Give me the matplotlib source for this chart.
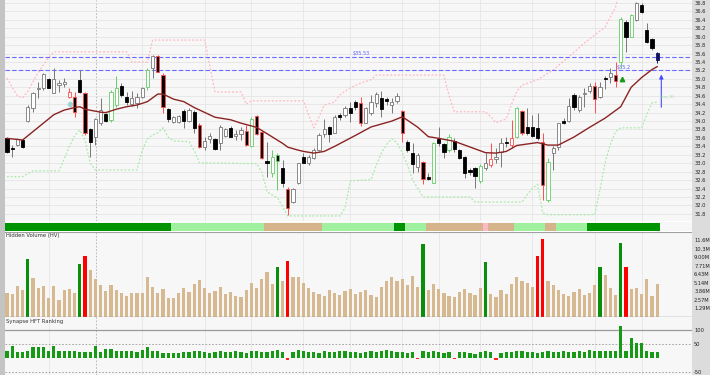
import numpy as np
import matplotlib
matplotlib.use("Agg")
import matplotlib.pyplot as plt
from matplotlib.patches import Rectangle

# ---- price candles ----
opens = [33.60,33.36,33.43,33.55,34.00,34.31,34.76,34.79,35.00,34.67,
         34.86,34.88,34.57,34.57,34.98,34.67,33.81,33.62,33.96,34.17,
         34.03,34.38,34.83,34.57,34.41,34.43,34.57,34.81,35.26,35.54,
         35.09,34.29,33.98,33.98,34.24,34.00,34.22,33.91,33.39,33.58,
         33.58,33.48,33.65,33.84,33.65,33.70,33.77,33.41,34.12,33.74,
         33.05,32.77,33.20,32.89,32.39,32.08,32.53,33.15,33.01,33.13,
         33.32,33.70,33.86,33.72,34.15,34.15,34.31,34.45,34.43,33.96,
         34.19,34.43,34.55,34.53,34.38,34.48,34.24,33.51,33.25,32.91,
         33.03,32.68,32.53,33.58,33.46,33.32,33.53,33.32,33.15,32.84,
         32.89,32.58,32.89,32.96,33.10,33.27,33.51,33.43,33.62,34.24,
         33.86,33.86,33.84,33.51,32.13,33.25,33.39,34.00,34.00,34.62,
         34.26,34.64,34.72,34.83,34.57,35.02,35.05,35.09,35.40,36.35,
         35.99,36.40,36.75,36.16,35.95,35.61]
highs = [33.62,33.43,33.60,33.58,34.38,34.69,34.93,35.14,35.02,35.26,
         34.98,35.02,34.79,34.69,35.21,34.69,33.84,34.07,34.55,34.19,
         34.74,35.07,34.90,34.69,34.72,34.67,34.81,35.26,35.57,35.57,
         35.14,34.31,34.12,34.15,34.29,34.31,34.26,33.96,33.62,33.72,
         33.60,33.91,33.84,33.89,33.79,33.86,33.91,34.10,34.15,33.77,
         33.51,33.32,33.25,33.08,32.44,32.42,33.01,33.25,33.20,33.36,
         33.72,34.05,33.89,34.15,34.19,34.36,34.45,34.50,34.57,34.34,
         34.62,34.69,34.72,34.57,34.55,34.67,34.26,33.55,33.48,33.25,
         33.05,32.77,33.51,33.86,33.48,33.70,33.60,33.34,33.18,32.89,
         32.91,32.99,33.25,33.48,33.36,33.60,33.62,34.03,34.34,34.26,
         34.31,34.15,34.19,33.72,33.13,33.41,33.96,34.07,34.55,34.67,
         34.62,34.79,34.90,34.93,34.93,35.07,35.26,35.40,36.47,36.40,
         36.54,36.82,36.80,36.33,35.97,35.64]
lows = [33.25,33.15,33.41,33.36,33.98,34.22,34.55,34.74,34.79,34.67,
        34.69,34.81,34.55,34.10,34.67,33.67,33.15,33.43,33.91,33.98,
        33.98,34.34,34.57,34.38,34.36,34.31,34.55,34.74,35.02,35.16,
        34.19,33.98,33.96,33.96,33.84,33.98,33.72,33.36,33.32,33.48,
        33.32,33.32,33.62,33.62,33.55,33.55,33.41,33.39,33.67,33.10,
        32.68,32.68,32.37,32.44,31.78,32.06,32.51,33.01,32.96,33.10,
        33.29,33.62,33.51,33.72,34.03,34.10,33.98,34.26,33.89,33.96,
        34.15,34.34,34.10,34.38,34.19,34.43,33.51,33.27,32.77,32.79,
        32.51,32.61,32.53,33.41,33.13,33.27,33.27,33.10,32.65,32.72,
        32.42,32.53,32.84,32.91,33.01,32.91,33.39,33.36,33.60,33.67,
        33.67,33.62,33.55,32.13,32.08,32.84,33.32,33.93,33.98,34.26,
        34.22,34.34,34.67,34.19,34.55,34.76,34.90,34.81,35.26,35.64,
        35.99,36.37,36.56,35.85,35.69,35.38]
closes = [33.27,33.34,33.58,33.39,34.34,34.67,34.79,35.12,34.79,35.00,
          34.90,34.93,34.69,34.22,34.69,33.72,33.51,34.05,34.26,34.00,
          34.69,34.79,34.62,34.45,34.55,34.57,34.79,35.21,35.54,35.16,
          34.34,34.05,34.10,34.12,34.00,34.26,33.84,33.39,33.53,33.65,
          33.34,33.86,33.81,33.62,33.70,33.79,33.43,34.05,33.70,33.13,
          33.01,33.15,33.05,32.53,31.94,32.39,33.01,33.01,33.15,33.32,
          33.67,33.81,33.70,34.10,34.10,34.31,34.19,34.34,33.96,34.31,
          34.45,34.64,34.29,34.48,34.45,34.60,33.72,33.32,32.99,33.20,
          32.63,32.63,33.48,33.48,33.27,33.62,33.34,33.13,32.77,32.79,
          32.70,32.94,33.01,33.10,33.15,33.48,33.48,33.60,34.31,33.72,
          33.72,33.65,33.60,32.49,33.03,33.36,33.96,33.96,34.36,34.34,
          34.57,34.67,34.83,34.53,34.81,35.00,35.14,34.95,36.42,35.99,
          36.52,36.80,36.59,35.88,35.73,35.45]
# k = plain, r = red outline, g = green outline, n = last bar
candle_flags = ("kkkkkkkkkk" "kkrrkrkkkk" "ggkkkkkgkr" "rkkkkkkrkk" "kkkkkkrgrr"
                "kggkrkkkkk" "kkkkkkkkrk" "kkkkkkrkkk" "rkgkkgkkkk" "kgkrkkkrgr"
                "kkkrgkkkkk" "kkkrkkkrgk" "gkkkkn")

# moving average, read at selected bars
ma_idx = [0,3,5,7,9,11,13,14,15,18,19,21,23,25,27,29,30,31,32,34,36,40,43,45,48,50,
          53,54,56,57,59,61,63,65,67,70,74,76,77,79,81,83,86,90,92,94,96,98,102,104,
          106,109,112,115,118,120,122,124,125]
ma_val = [33.59,33.55,33.75,33.95,34.15,34.26,34.32,34.34,34.28,34.21,34.20,34.28,34.34,
          34.38,34.46,34.64,34.64,34.58,34.52,34.46,34.32,34.09,34.03,33.95,33.85,33.70,
          33.47,33.38,33.31,33.28,33.24,33.28,33.40,33.53,33.66,33.86,34.00,34.10,34.02,
          33.85,33.63,33.59,33.52,33.34,33.25,33.24,33.28,33.42,33.49,33.43,33.43,33.62,
          33.85,34.07,34.34,34.80,35.03,35.22,35.29]

# upper (pink) and lower (green) dotted bands
up_idx = [0,1,2,3,4,5,6,7,8,9,23,24,27,28,38,39,40,45,46,47,57,58,59,60,61,63,64,66,68,
          70,71,84,85,86,92,93,94,96,97,98,99,102,105,108,111,115,117,118,125]
up_val = [35.02,34.80,34.60,34.55,34.70,34.93,35.15,35.33,35.50,35.64,35.64,35.40,35.40,
          35.92,35.92,35.30,34.69,34.69,34.40,34.48,34.48,34.15,33.84,34.10,34.38,34.45,
          34.62,34.79,34.90,34.98,35.09,35.09,34.60,34.22,34.22,34.10,33.96,34.05,34.40,
          34.70,34.85,34.98,35.21,35.52,35.85,36.23,36.70,37.20,37.20]
lo_idx = [0,3,4,5,10,11,12,13,14,15,16,17,25,26,27,28,29,30,31,32,35,36,37,48,49,50,52,
          53,54,64,65,66,70,71,72,73,74,75,76,77,78,79,80,89,90,99,100,101,102,103,104,
          113,114,115,116,117,118,122,123,124,125]
lo_val = [32.68,32.68,32.75,32.82,32.82,33.10,33.40,33.65,33.79,33.55,33.00,32.84,32.84,
          33.30,33.58,33.67,33.72,33.84,33.62,33.53,33.51,33.30,33.01,32.99,32.79,32.32,
          32.18,31.97,31.75,31.75,31.94,32.58,32.61,32.95,33.25,33.45,33.58,33.48,33.25,
          32.95,32.60,32.40,32.20,32.20,32.08,32.08,32.25,32.40,32.50,31.82,31.78,31.78,
          32.37,33.01,33.45,33.75,33.84,33.84,34.15,34.43,34.45]

# trend strip (state, number of bars)
strip_runs = [("dg", 32), ("lg", 18), ("tan", 11), ("lg", 14), ("dg", 2), ("lg", 4),
              ("tan", 11), ("pk", 1), ("tan", 5), ("lg", 6), ("tan", 2), ("lg", 6), ("dg", 14)]

# hidden volume (millions)
volume = [3.67,3.42,4.68,4.02,8.75,5.93,4.37,4.68,2.82,4.68,
          2.51,4.07,4.27,3.67,8.0,9.2,7.09,5.73,4.83,3.97,
          4.83,4.07,3.57,3.22,3.57,3.57,3.57,5.98,4.47,3.67,
          4.22,2.82,2.92,3.67,4.4,3.8,5.0,5.6,4.3,3.6,
          3.9,4.5,3.4,3.8,3.2,3.0,4.0,5.2,4.4,5.8,
          6.8,5.0,7.5,5.5,8.5,6.0,6.0,5.2,4.4,3.8,
          3.5,3.2,4.0,3.6,3.3,3.9,4.2,3.5,3.7,4.0,
          3.3,3.0,4.5,5.5,6.0,5.5,5.8,4.8,6.2,4.5,
          11.0,4.0,5.0,4.2,3.6,3.2,3.0,3.8,4.2,3.6,
          3.3,4.4,8.3,3.5,3.0,4.0,3.4,5.0,6.0,5.5,
          5.2,4.6,9.2,11.8,5.4,4.8,4.0,3.5,3.2,3.8,
          4.2,3.3,3.6,4.8,7.6,6.4,4.4,3.3,11.1,7.6,
          4.2,4.4,3.4,5.7,3.2,5.0]
vol_green = [4, 14, 52, 80, 92, 114, 118]
vol_red = [15, 54, 102, 103, 119]
vol_ticks = [1.29, 2.57, 3.86, 5.14, 6.43, 7.71, 9.00, 10.3, 11.6]
vol_labels = ["1.29M", "2.57M", "3.86M", "5.14M", "6.43M", "7.71M", "9.00M", "10.3M", "11.6M"]

# Synapse HFT ranking
hft = [24,44,20,20,24,40,40,40,24,42,26,26,24,24,20,20,20,43,21,33,
       32,24,24,24,24,20,30,39,24,24,19,17,17,19,22,20,24,26,20,18,
       22,24,20,22,25,20,18,24,26,22,20,24,28,22,-8,20,30,26,22,20,
       18,24,22,20,26,24,22,20,18,22,24,20,26,28,24,22,20,18,22,-5,
       24,20,26,22,18,20,-4,22,20,18,16,20,24,22,-6,18,20,22,26,24,
       20,22,18,20,24,22,20,26,22,20,24,22,28,26,25,25,25,25,114,25,
       72,55,55,25,22,22]

vgrid = [8, 26, 38, 47, 57, 66, 76, 83, 91, 101, 113, 122]

n = len(closes)
idx = np.arange(n)

fig = plt.figure(figsize=(7.1, 3.75), dpi=100)
fig.patch.set_facecolor("white")
fig.add_artist(Rectangle((692/710, 0), 18/710, 1, transform=fig.transFigure,
                         color="#dcdcdc", zorder=0))
fig.add_artist(Rectangle((0, 0), 4/710, 1, transform=fig.transFigure,
                         color="#c4c4c4", zorder=0))

left, width = 5/710, 687/710
ax_p = fig.add_axes([left, 1-221/375, width, 221/375])
ax_s = fig.add_axes([left, 1-231/375, width, 9/375])
ax_v = fig.add_axes([left, 1-317/375, width, 85/375])
ax_h = fig.add_axes([left, 0, width, 58/375])

for ax in (ax_p, ax_s, ax_v, ax_h):
    ax.set_facecolor("#f7f7f7")
    ax.set_xlim(-0.38, 131.7)
    for s in ax.spines.values():
        s.set_visible(False)
    ax.set_xticks([])
    ax.yaxis.tick_right()
    ax.tick_params(axis="y", length=0, labelsize=3.7, pad=1.5, colors="#222222")
    for g in vgrid:
        ax.axvline(g, color="#e6e6e6", lw=0.6, zorder=0)
    ax.axvline(17.1, color="#b0b0b0", lw=0.6, ls=(0, (2, 2)), zorder=0)

# ---- price panel ----
ax_p.set_ylim(31.63, 36.87)
pt = np.arange(31.8, 36.81, 0.2)
ax_p.set_yticks(pt)
ax_p.set_yticklabels([f"{v:.1f}" for v in pt])
for v in pt:
    ax_p.axhline(v, color="#e4e4e4", lw=0.6, zorder=0)

ax_p.plot(up_idx, up_val, color="#ffb8c0", lw=0.9, ls=(0, (1.5, 1.5)), zorder=1)
ax_p.plot(lo_idx, lo_val, color="#a8eaa8", lw=0.9, ls=(0, (1.5, 1.5)), zorder=1)

for lvl in (35.53, 35.2):
    ax_p.axhline(lvl, color="#6a6aff", lw=0.8, ls=(0, (4, 2)), zorder=2)
ax_p.text(66.5, 35.56, "$35.53", fontsize=3.6, color="#6060ff")
ax_p.text(117.3, 35.23, "$35.2", fontsize=3.6, color="#6060ff")

edge_map = {"k": "#777777", "r": "#ff4d4d", "g": "#66cc66", "n": "#101060"}
for i in idx:
    o, h, l, c = opens[i], highs[i], lows[i], closes[i]
    f = candle_flags[i]
    up = c >= o
    if f == "k":
        edge = "#777777" if up else "#000000"
        wick = "#777777"
    else:
        edge = edge_map[f]
        wick = edge_map[f]
    fill = "#ffffff" if up else ("#101060" if f == "n" else "#000000")
    ax_p.vlines(i, l, h, color=wick, lw=0.7, zorder=3)
    ax_p.bar(i, max(abs(c - o), 0.015), bottom=min(o, c), width=0.62,
             facecolor=fill, edgecolor=edge, lw=0.6, zorder=4)

ax_p.plot(ma_idx, ma_val, color="#8b2323", lw=1.0, zorder=5)

ax_p.plot(12.1, 34.40, marker="o", ms=3, color="#9fd6d6", zorder=3)
ax_p.plot(118.3, 35.0, marker="^", ms=3.2, color="#1c9a1c", zorder=5)
ax_p.annotate("", xy=(125.8, 35.17), xytext=(125.8, 34.26),
              arrowprops=dict(arrowstyle="-|>", color="#4a4aff", lw=0.8,
                              mutation_scale=6))
ax_p.text(125.4, 34.55, "Buy_SL", fontsize=3.2, color="#a8e0a8")

# ---- trend strip ----
strip_col = {"dg": "#009400", "lg": "#9ff09f", "tan": "#d5b48c", "pk": "#ffb8c8"}
colors = []
for state, cnt in strip_runs:
    colors += [strip_col[state]] * cnt
ax_s.bar(idx, 1, width=1.0, color=colors, lw=0, zorder=2)
ax_s.set_ylim(0, 1.1)
ax_s.set_yticks([])

# ---- hidden volume ----
vcol = ["#d6b990"] * n
for i in vol_green:
    vcol[i] = "#0a8f0a"
for i in vol_red:
    vcol[i] = "#ff0000"
ax_v.bar(idx, volume, width=0.62, color=vcol, zorder=2)
ax_v.set_ylim(0, 12.82)
ax_v.set_yticks(vol_ticks)
ax_v.set_yticklabels(vol_labels)
ax_v.axhline(12.82, color="#a0a0a0", lw=0.8)
ax_v.axhline(0.02, color="#8c8c8c", lw=1.0)
ax_v.text(0.002, 0.985, "Hidden Volume (HV)", transform=ax_v.transAxes,
          fontsize=3.8, va="top", color="#333333")

# ---- HFT ranking ----
hcol = ["#169a16" if v >= 0 else "#ff2020" for v in hft]
ax_h.bar(idx, hft, width=0.62, color=hcol, zorder=2)
ax_h.set_ylim(-60.7, 146.4)
ax_h.set_yticks([100, 50, -50])
ax_h.set_yticklabels(["100", "50", "-50"])
ax_h.axhline(100, color="#9a9a9a", lw=0.9, zorder=1)
for v in (50, -50):
    ax_h.axhline(v, color="#9a9a9a", lw=0.6, ls=(0, (2, 2)), zorder=1)
ax_h.text(0.002, 0.96, "Synapse HFT Ranking", transform=ax_h.transAxes,
          fontsize=3.8, va="top", color="#333333")

fig.savefig("out.png", dpi=100)
